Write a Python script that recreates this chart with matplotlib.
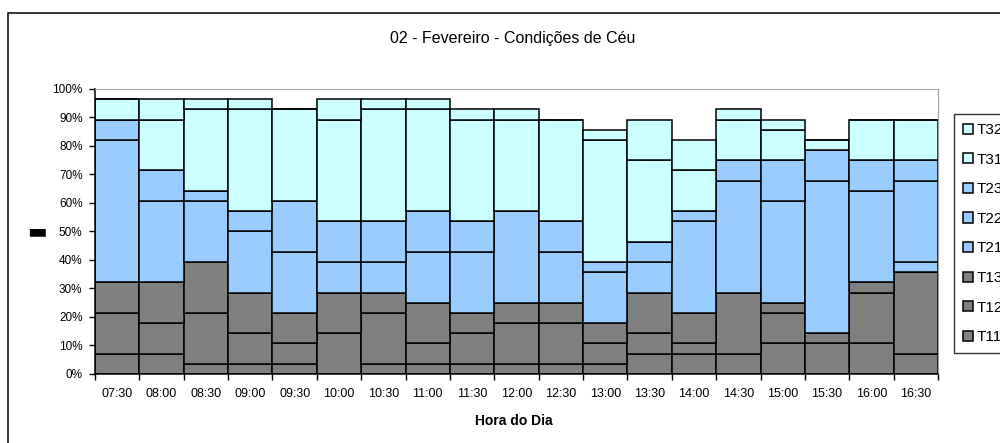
import numpy as np
import matplotlib.pyplot as plt
from matplotlib.patches import Rectangle

plt.rcParams['font.family'] = ['Liberation Sans', 'DejaVu Sans']

# Time slots and days (out of 28) in each sky-condition class
horas = ["07:30", "08:00", "08:30", "09:00", "09:30", "10:00", "10:30",
         "11:00", "11:30", "12:00", "12:30", "13:00", "13:30", "14:00",
         "14:30", "15:00", "15:30", "16:00", "16:30"]
dias_mes = 28

T11 = [2, 2, 1, 1, 1, 0, 1, 1, 1, 1, 1, 1, 2, 2, 2, 3, 0, 3, 2]
T12 = [4, 3, 5, 3, 2, 4, 5, 2, 3, 4, 4, 2, 2, 1, 6, 3, 3, 5, 8]
T13 = [3, 4, 5, 4, 3, 4, 2, 4, 2, 2, 2, 2, 4, 3, 0, 1, 1, 1, 0]
T21 = [14, 8, 6, 6, 6, 3, 3, 5, 6, 9, 5, 5, 3, 9, 11, 10, 15, 9, 1]
T22 = [2, 3, 1, 2, 5, 4, 4, 4, 3, 0, 3, 1, 2, 1, 2, 4, 3, 3, 8]
T23 = [0, 0, 0, 0, 0, 0, 0, 0, 0, 0, 0, 0, 0, 0, 0, 0, 0, 0, 2]
T31 = [2, 5, 8, 10, 9, 10, 11, 10, 10, 9, 10, 12, 8, 4, 4, 3, 1, 4, 4]
T32 = [0, 2, 1, 1, 0, 2, 1, 1, 1, 1, 0, 1, 4, 3, 1, 1, 0, 0, 0]

series = [("T11", T11), ("T12", T12), ("T13", T13),
          ("T21", T21), ("T22", T22), ("T23", T23),
          ("T31", T31), ("T32", T32)]
cores = {"T1": "#808080", "T2": "#99CCFF", "T3": "#CCFFFF"}

fig = plt.figure(figsize=(10, 4.43), dpi=100)
ax = fig.add_axes([0.095, 0.1558, 0.843, 0.6433])

x = np.arange(len(horas))
base = np.zeros(len(horas))
handles = []
for nome, vals in series:
    v = np.array(vals) / dias_mes
    b = ax.bar(x, v, width=1.0, bottom=base, color=cores[nome[:2]],
               edgecolor="black", linewidth=1.1, label=nome)
    handles.append(b)
    base += v

ax.set_xlim(-0.5, len(horas) - 0.5)
ax.set_ylim(0, 1)
ax.set_yticks(np.arange(0, 1.01, 0.1))
ax.set_yticklabels([f"{int(round(t * 100))}%" for t in np.arange(0, 1.01, 0.1)])
ax.set_xticks(np.arange(-0.5, len(horas), 1))
ax.set_xticklabels([])
ax.set_xticks(x, labels=horas, minor=True)
ax.tick_params(axis="x", which="major", length=4, width=1, color="black", direction="out")
ax.tick_params(axis="x", which="minor", length=0, pad=10, labelsize=9)
ax.tick_params(axis="y", length=4, width=1, direction="out", pad=5, labelsize=8.5)

for s in ["top", "right"]:
    ax.spines[s].set_color("#a0a0a0")
for s in ["left", "bottom"]:
    ax.spines[s].set_color("black")
    ax.spines[s].set_linewidth(1.1)

fig.text(0.513, 1 - 38 / 443, "02 - Fevereiro - Condições de Céu",
         ha="center", va="center", fontsize=11.5)
fig.text(0.514, 1 - 421 / 443, "Hora do Dia", ha="center", va="center",
         fontsize=10, fontweight="bold")
fig.text(0.037, 1 - 231 / 443, "▬", ha="center", va="center",
         fontsize=15, family="DejaVu Sans")

# outer chart frame (extends past the right/bottom edges)
fig.patches.append(Rectangle((0.008, -0.2), 1.5, 1.2 - 13 / 443,
                             transform=fig.transFigure, fill=False,
                             edgecolor="black", linewidth=1.1))

leg = fig.legend(handles[::-1], [n for n, _ in series][::-1],
                 loc="upper left", bbox_to_anchor=(0.954, 1 - 114 / 443),
                 borderaxespad=0, fontsize=11, frameon=True, fancybox=False,
                 shadow=False, handlelength=0.65, handleheight=0.65,
                 handletextpad=0.2, labelspacing=1.02, borderpad=0.6)
leg.get_frame().set_edgecolor("black")
leg.get_frame().set_linewidth(1.0)

fig.savefig("out.png", dpi=100)
